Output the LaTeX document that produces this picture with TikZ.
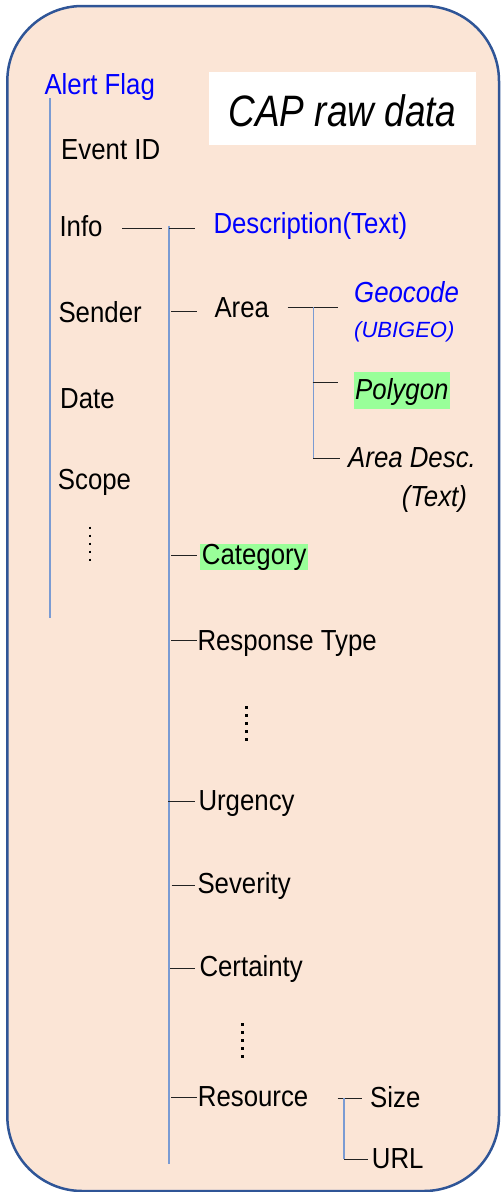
\documentclass[tikz,border=0pt]{standalone}
\usepackage{graphicx}
\usepackage{fontspec}
\setmainfont{Liberation Sans}
\definecolor{boxfill}{HTML}{FBE5D6}
\definecolor{boxline}{HTML}{2F5597}
\definecolor{treeline}{HTML}{7A9BD3}
\definecolor{capblue}{HTML}{0000FF}
\definecolor{hilite}{HTML}{99FF99}
\definecolor{branchline}{HTML}{222222}
\newcommand{\nar}[1]{\scalebox{0.89}[1]{#1}}
\begin{document}
\begin{tikzpicture}[x=1pt,y=-1pt,
  lbl/.style={anchor=base west, inner sep=0pt, font=\fontsize{29}{33}\selectfont},
  small/.style={anchor=base west, inner sep=0pt, font=\fontsize{22}{25}\selectfont},
  hl/.style={lbl, fill=hilite, inner xsep=1.5pt, inner ysep=0pt},
  trunk/.style={draw=treeline, line width=1.1pt},
  branch/.style={draw=branchline, line width=0.9pt},
  dotcol/.style={draw=black, line width=2.6pt, dash pattern=on 2.6pt off 5.4pt}]
\useasboundingbox (0,0) rectangle (502,1192);
% outer box
\draw[boxline, fill=boxfill, line width=2.5pt, rounded corners=75pt] (7.3,6) rectangle (499,1191);
% title box
\node[draw=none, fill=white, minimum width=267pt, minimum height=73.3pt, inner sep=0pt, anchor=north west] (titlebox) at (209,71.7) {};
\node[anchor=base west, inner sep=0pt, font=\fontsize{44}{50}\selectfont\itshape] (title) at (228.3,126.7) {\scalebox{0.84}[1]{CAP raw data}};
% left column
\node[lbl, text=capblue] (alert) at (44.3,94) {\nar{Alert Flag}};
\node[lbl] (event) at (61,159) {\nar{Event ID}};
\node[lbl] (info) at (59.3,236) {\nar{Info}};
\node[lbl] (sender) at (58.3,322.7) {\nar{Sender}};
\node[lbl] (date) at (60,408.3) {\nar{Date}};
\node[lbl] (scope) at (57.7,489.5) {\nar{Scope}};
\coordinate (d1a) at (90,526.5);
\coordinate (d1b) at (90,561);
\draw[dotcol] (d1a) -- (d1b);
\coordinate (alertTop) at (50,98.3);
\coordinate (alertBot) at (50,618);
\draw[trunk] (alertTop) -- (alertBot);
% info connector
\coordinate (infoL) at (122.3,228.3);
\coordinate (infoR) at (161.7,228.3);
\draw[branch] (infoL) -- (infoR);
% info subtree
\coordinate (tTop) at (169,226);
\coordinate (tBot) at (169,1164);
\draw[trunk] (tTop) -- (tBot);
\node[lbl, text=capblue] (desc) at (213.3,233.3) {\nar{Description(Text)}};
\node[lbl] (area) at (214.3,317.7) {\nar{Area}};
\node[hl] (cat) at (200.2,564.3) {\nar{Category}};
\node[lbl] (resp) at (197.3,650) {\nar{Response Type}};
\node[lbl] (urg) at (198.3,810) {\nar{Urgency}};
\node[lbl] (sev) at (197.3,893.3) {\nar{Severity}};
\node[lbl] (cert) at (199.3,976.7) {\nar{Certainty}};
\node[lbl] (res) at (197.7,1106.7) {\nar{Resource}};
\coordinate (d2a) at (246.7,706);
\coordinate (d2b) at (246.7,741);
\draw[dotcol] (d2a) -- (d2b);
\coordinate (d3a) at (242.3,1023);
\coordinate (d3b) at (242.3,1058);
\draw[dotcol] (d3a) -- (d3b);
\draw[branch] (169,228) coordinate (bDescL) -- (195,228) coordinate (bDescR);
\draw[branch] (171,311) coordinate (bAreaL) -- (196.7,311) coordinate (bAreaR);
\draw[branch] (171,555) coordinate (bCatL) -- (196.7,555) coordinate (bCatR);
\draw[branch] (171,640.7) coordinate (bRespL) -- (196.7,640.7) coordinate (bRespR);
\draw[branch] (168,801.7) coordinate (bUrgL) -- (195,801.7) coordinate (bUrgR);
\draw[branch] (171.7,885) coordinate (bSevL) -- (195,885) coordinate (bSevR);
\draw[branch] (170,968.3) coordinate (bCertL) -- (195,968.3) coordinate (bCertR);
\draw[branch] (171,1097.7) coordinate (bResL) -- (196.7,1097.7) coordinate (bResR);
% area subtree
\node[lbl, text=capblue] (geo) at (354,302.7) {\nar{\itshape Geocode}};
\node[small, text=capblue] (ubi) at (354,337) {\itshape (UBIGEO)};
\node[hl, text height=27.3pt, text depth=10.3pt] (poly) at (353.5,399) {\nar{\itshape Polygon}};
\node[lbl] (adesc) at (348,467) {\nar{\itshape Area Desc.}};
\node[lbl] (atext) at (401.7,506.7) {\nar{\itshape (Text)}};
\draw[branch] (287.7,307.3) coordinate (aL) -- (338,307.3) coordinate (aR);
\draw[trunk] (313.3,307.3) coordinate (atTop) -- (313.3,458.3) coordinate (atBot);
\draw[branch] (312.5,382.3) coordinate (apL) -- (338,382.3) coordinate (apR);
\draw[branch] (313.3,458.3) coordinate (adL) -- (340,458.3) coordinate (adR);
% resource subtree
\node[lbl] (size) at (370,1107) {\nar{Size}};
\node[lbl] (url) at (371.7,1168) {\nar{URL}};
\draw[branch] (337.7,1098) coordinate (rL) -- (362.3,1098) coordinate (rR);
\draw[trunk] (344,1098) coordinate (rtTop) -- (344,1159.3) coordinate (rtBot);
\draw[branch] (rtBot) -- (368,1159.3) coordinate (ruR);
\end{tikzpicture}
\end{document}
